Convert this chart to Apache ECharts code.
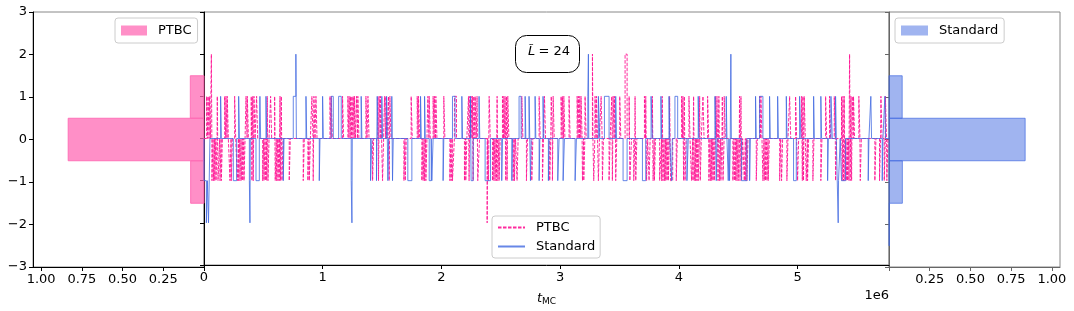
<!DOCTYPE html>
<html><head><meta charset="utf-8">
<script src="https://cdn.jsdelivr.net/npm/echarts@6/dist/echarts.min.js"></script>
<style>html,body{margin:0;padding:0;background:#fff}#c{width:1074px;height:311px}</style>
</head><body><div id="c"></div><script>
// ---------- data (times in units of 1e6 MC steps) ----------
const histBins = [-2, -1, 0, 1, 2];
const ptbcHist = [0, 0.082, 0.834, 0.084, 0];
const stdHist  = [0.002, 0.082, 0.836, 0.081, 0];

const ptbcUp = [0.022,0.034,0.045,0.112,0.174,0.185,0.196,0.258,0.354,0.365,0.398,0.410,0.421,0.443,0.533,0.561,0.595,0.640,0.651,0.909,0.926,0.943,
 1.061,1.072,1.167,1.212,1.223,1.235,1.246,1.257,1.268,1.285,1.296,1.364,1.381,1.465,1.476,1.487,1.521,1.532,1.554,1.566,1.745,1.796,1.807,1.886,1.897,
 1.930,1.941,1.953,2.020,2.110,2.118,2.228,2.239,2.250,2.261,2.273,2.284,2.300,2.402,2.469,2.514,2.525,2.536,2.548,2.559,2.677,2.823,2.868,
 2.925,2.941,3.008,3.019,3.031,3.075,3.143,3.154,3.165,3.176,3.210,3.294,3.306,3.345,3.435,3.446,3.457,3.502,3.581,3.631,3.710,3.721,3.777,
 3.860,3.922,4.023,4.034,4.046,4.085,4.124,4.175,4.203,4.242,4.309,4.321,4.337,4.366,4.382,4.511,4.523,4.680,4.691,
 4.933,4.983,5.034,5.045,5.056,5.236,5.269,5.309,5.370,5.382,5.393,5.449,5.460,5.471,5.516,5.702,5.740];
const ptbcDown = [0.067,0.079,0.090,0.101,0.118,0.123,0.135,0.146,0.219,0.230,0.281,0.292,0.303,0.314,0.326,0.337,0.404,0.415,0.494,0.505,0.516,0.528,0.539,0.600,0.612,0.623,0.634,0.645,0.657,0.718,0.836,0.875,0.887,0.920,
 1.420,1.470,1.504,1.560,1.684,1.695,1.835,1.846,1.858,1.869,
 2.071,2.082,2.093,2.100,2.194,2.205,2.233,2.267,2.306,2.312,2.396,2.430,2.441,2.452,2.463,2.475,2.486,2.542,2.553,2.604,2.615,2.637,2.716,2.761,2.851,
 2.912,2.935,3.188,3.199,3.283,3.322,3.356,3.412,3.440,3.468,3.587,3.592,3.620,3.637,3.728,3.749,3.783,3.794,
 3.838,3.845,3.855,3.866,3.878,3.889,3.900,3.911,3.930,3.939,3.978,4.040,4.052,4.107,4.119,4.130,4.141,4.152,4.163,4.180,4.253,4.265,4.276,4.287,4.298,4.330,4.343,4.354,4.372,4.455,4.467,4.478,4.489,4.500,4.515,4.528,4.551,4.562,4.573,4.652,4.708,4.719,4.730,4.742,4.753,
 4.849,4.865,4.910,5.000,5.040,5.050,5.073,5.084,5.129,5.196,5.320,5.376,5.387,5.398,5.410,5.421,5.432,5.443,5.455,5.528,5.651,5.690,5.730,5.752];
const ptbcPeaks = [[0.062,2,0.004],[2.385,-2,0.004],[3.272,2,0.004],[3.547,2,0.017],[5.438,2,0.004]];

const stdUp = [0.140,0.292,0.471,0.522,0.859,0.999,1.324,1.459,1.498,1.538,1.824,1.858,2.172,2.244,2.317,2.705,2.738,2.789,2.856,3.468,3.849,3.917,4.163,4.304,4.399,4.646,4.764,4.832,4.905,5.135,5.196,5.320,5.617,5.735];
const stdDown = [0.668,0.971,1.453,1.549,1.588,2.014,2.508,2.593,2.750,2.823,2.901,3.939,4.315,4.416,4.427,4.596,5.253,5.595,5.713];
const stdBlocks = [[0,0.020,-1],[0.020,0.028,-2],[0.028,0.038,-1],[0.038,0.050,-2],
 [0.752,0.774,1],[1.072,1.089,1],[1.134,1.156,1],[1.582,1.605,1],[2.093,2.115,1],[2.654,2.671,1],[3.233,3.244,1],[3.322,3.334,1],[3.373,3.412,1],[3.766,3.777,1],[3.967,3.990,1],[4.680,4.708,1],[5.017,5.028,1],[5.281,5.292,1],
 [0.247,0.275,-1],[0.382,0.387,-1],[0.438,0.466,-1],[1.240,1.246,-1],[1.403,1.414,-1],[1.717,1.751,-1],[1.897,1.914,-1],[1.919,1.930,-1],[2.250,2.267,-1],[2.368,2.413,-1],[2.980,2.991,-1],[3.025,3.036,-1],[3.126,3.137,-1],[3.530,3.564,-1],[3.693,3.721,-1],[4.068,4.079,-1],[4.528,4.573,-1],[4.966,4.989,-1],[5.345,5.359,-1],[5.370,5.404,-1]];
const stdPeaks = [[0.774,2,0.004],[3.238,2,0.003],[4.438,2,0.004],[0.387,-2,0.003],[1.246,-2,0.003],[5.342,-2,0.003]];

const tMax = 5.77;
const SPIKE_PT = 0.009;
const SPIKE_STD = 0.006;

// ---------- build step lines ----------
function buildStep(events){
  events.sort((a,b)=>a[0]-b[0]);
  const pts=[[0,0]]; let cur=0, last=0;
  events.forEach(([t,q,d])=>{
    if (t > last + 1e-9 && cur !== 0){ pts.push([last,cur]); pts.push([last,0]); cur=0; }
    pts.push([t,cur]); pts.push([t,q]); cur=q; last=t+d;
  });
  if (cur!==0){ pts.push([last,cur]); pts.push([last,0]); }
  pts.push([tMax,0]);
  return pts;
}
const ptbcEvents = [].concat(ptbcUp.map(t=>[t,1,SPIKE_PT]), ptbcDown.map(t=>[t,-1,SPIKE_PT]), ptbcPeaks.map(p=>p.slice()));
const stdEvents = [].concat(stdUp.map(t=>[t,1,SPIKE_STD]), stdDown.map(t=>[t,-1,SPIKE_STD]), stdBlocks.map(b=>[b[0],b[2],b[1]-b[0]]), stdPeaks.map(p=>p.slice()));
const ptbcLine = buildStep(ptbcEvents);
const stdLine = buildStep(stdEvents);

const FONT = 'DejaVu Sans';
const minus = v => v < 0 ? '\u2212' + (-v) : String(v);

function histRender(fill, stroke){
  return function(params, api){
    const q = api.value(0), w = api.value(1);
    if (!(w > 0)) return null;
    const a = api.coord([0, q + 0.5]), b = api.coord([w, q - 0.5]);
    return {type:'rect', shape:{x:Math.min(a[0],b[0]), y:a[1], width:Math.abs(b[0]-a[0]), height:b[1]-a[1]},
      style:{fill:fill, stroke:stroke, lineWidth:1}};
  };
}

const chart = echarts.init(document.getElementById('c'), null, {renderer:'canvas'});
const lblStyle = {color:'#000', fontSize:13, fontFamily:FONT};
const yBase = {type:'value', min:-3, max:3, interval:1, splitLine:{show:false}};
chart.setOption({
  animation:false,
  backgroundColor:'#fff',
  grid:[
    {left:33, top:12, width:171, height:255, show:true, borderColor:'#888', borderWidth:1},
    {left:204, top:12, width:685, height:255, show:true, borderColor:'#888', borderWidth:1},
    {left:889, top:12, width:171, height:255, show:true, borderColor:'#888', borderWidth:1}
  ],
  xAxis:[
    {gridIndex:0, type:'value', min:0, max:1.05, inverse:true, splitLine:{show:false},
     axisLine:{show:true, onZero:false, lineStyle:{color:'#000'}},
     axisTick:{show:true, length:4, customValues:[0,0.25,0.5,0.75,1], lineStyle:{color:'#000'}},
     axisLabel:Object.assign({customValues:[0.25,0.5,0.75,1], margin:6, formatter:v=>v.toFixed(2)}, lblStyle)},
    {gridIndex:1, type:'value', min:0, max:tMax, splitLine:{show:false},
     axisLine:{show:true, onZero:false, lineStyle:{color:'#000'}},
     axisTick:{show:true, length:4, customValues:[0,1,2,3,4,5], lineStyle:{color:'#000'}},
     axisLabel:Object.assign({customValues:[0,1,2,3,4,5], margin:6, formatter:v=>String(Math.round(v))}, lblStyle),
     name:'{i|t}{s|MC}', nameLocation:'middle', nameGap:26,
     nameTextStyle:{rich:{i:{fontStyle:'italic', fontSize:13, fontFamily:FONT, color:'#000'}, s:{fontSize:9, fontFamily:FONT, color:'#000', padding:[6,0,0,0]}}}},
    {gridIndex:2, type:'value', min:0, max:1.05, splitLine:{show:false},
     axisLine:{show:true, onZero:false, lineStyle:{color:'#666'}},
     axisTick:{show:true, length:4, customValues:[0,0.25,0.5,0.75,1], lineStyle:{color:'#666'}},
     axisLabel:Object.assign({customValues:[0.25,0.5,0.75,1], margin:6, formatter:v=>v.toFixed(2)}, lblStyle)}
  ],
  yAxis:[
    Object.assign({gridIndex:0, axisLine:{show:true, onZero:false, lineStyle:{color:'#000'}},
     axisTick:{show:true, length:4, lineStyle:{color:'#000'}},
     axisLabel:Object.assign({margin:6, formatter:minus}, lblStyle)}, yBase),
    Object.assign({gridIndex:1, axisLine:{show:true, onZero:false, lineStyle:{color:'#000'}},
     axisTick:{show:true, length:4, lineStyle:{color:'#000'}}, axisLabel:{show:false}}, yBase),
    Object.assign({gridIndex:2, axisLine:{show:true, onZero:false, lineStyle:{color:'#666'}},
     axisTick:{show:true, length:4, lineStyle:{color:'#666'}}, axisLabel:{show:false}}, yBase)
  ],
  legend:[
    {data:['PTBC hist'], left:115, top:18, selectedMode:false, icon:'rect', itemWidth:26, itemHeight:10,
     padding:[6,6,6,6], borderColor:'#ccc', borderWidth:1, borderRadius:3, backgroundColor:'#fff',
     formatter:n=>n.replace(' hist',''), textStyle:Object.assign({padding:[0,0,0,6]}, lblStyle)},
    {data:['PTBC','Standard'], orient:'vertical', left:492, top:216, selectedMode:false, itemWidth:27, itemHeight:10, itemGap:6,
     itemStyle:{opacity:0},
     padding:[5,5,5,5], borderColor:'#ccc', borderWidth:1, borderRadius:3, backgroundColor:'rgba(255,255,255,0.85)',
     textStyle:Object.assign({padding:[0,0,0,6]}, lblStyle)},
    {data:['Standard hist'], left:895, top:18, selectedMode:false, icon:'rect', itemWidth:27, itemHeight:10,
     padding:[6,6,6,6], borderColor:'#ccc', borderWidth:1, borderRadius:3, backgroundColor:'#fff',
     formatter:n=>n.replace(' hist',''), textStyle:Object.assign({padding:[0,0,0,6]}, lblStyle)}
  ],
  series:[
    {name:'PTBC hist', type:'custom', xAxisIndex:0, yAxisIndex:0, encode:{x:1, y:0},
     itemStyle:{color:'rgba(255,105,180,0.75)'},
     renderItem:histRender('rgba(255,105,180,0.75)','rgba(255,105,180,0.9)'),
     data:histBins.map((q,i)=>[q, ptbcHist[i]])},
    {name:'PTBC', type:'line', xAxisIndex:1, yAxisIndex:1, data:ptbcLine, symbol:'none', showSymbol:false,
     lineStyle:{color:'#FF1493', width:1, type:[3.5,1.5], opacity:0.9}, itemStyle:{color:'#FF1493'}, z:2},
    {name:'Standard', type:'line', xAxisIndex:1, yAxisIndex:1, data:stdLine, symbol:'none', showSymbol:false,
     lineStyle:{color:'#4169E1', width:1, opacity:0.8}, itemStyle:{color:'#4169E1'}, z:3},
    {name:'Standard hist', type:'custom', xAxisIndex:2, yAxisIndex:2, encode:{x:1, y:0},
     itemStyle:{color:'rgba(65,105,225,0.5)'},
     renderItem:histRender('rgba(65,105,225,0.5)','rgba(65,105,225,0.7)'),
     data:histBins.map((q,i)=>[q, stdHist[i]])}
  ],
  graphic:[
    {type:'rect', left:515, top:35, z:100, shape:{width:64, height:37, r:11}, style:{fill:'#fff', stroke:'#000', lineWidth:1}},
    {type:'text', left:528, top:45, z:101, style:{text:'{i|L\u0303} {n|= 24}', rich:{i:{fontStyle:'italic', fontSize:13, fontFamily:FONT, fill:'#000'}, n:{fontSize:13, fontFamily:FONT, fill:'#000'}}}},
    {type:'text', right:1074-889, top:289, style:{text:'1e6', fontSize:13, fontFamily:FONT, fill:'#000', textAlign:'right'}}
  ]
});
</script></body></html>
